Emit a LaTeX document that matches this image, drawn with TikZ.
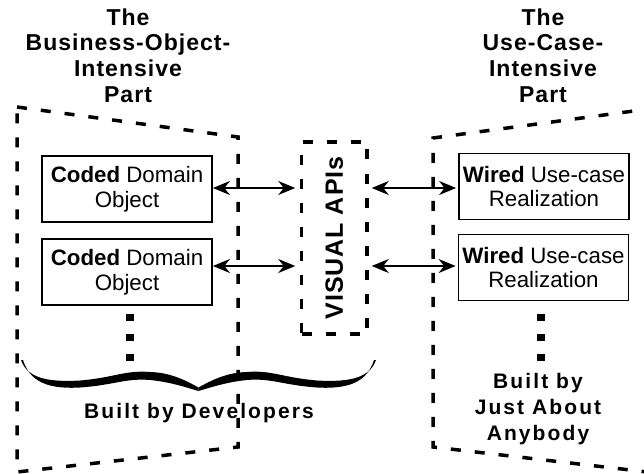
\documentclass[tikz,border=0pt]{standalone}
\usepackage{fontspec}
\setmainfont{Liberation Sans}
\newfontfamily\headfont[LetterSpace=4.5]{Liberation Sans}
\newfontfamily\capfont[LetterSpace=10]{Liberation Sans}
\newfontfamily\apifont[LetterSpace=4]{Liberation Sans}
\usetikzlibrary{arrows.meta}

\begin{document}
\begin{tikzpicture}[x=1pt,y=-1pt,
  part/.style={draw, line width=3.5pt, dash pattern=on 10pt off 14pt},
  objbox/.style={draw, line width=1.8pt, minimum width=170pt, minimum height=66pt,
    inner sep=0pt, align=center, font=\fontsize{22.3}{24.5}\selectfont},
  heading/.style={align=center, inner sep=0pt,
    font=\headfont\bfseries\fontsize{23}{25.8}\selectfont},
  caption/.style={align=center, inner sep=0pt,
    font=\capfont\bfseries\fontsize{21}{26}\selectfont},
  apibox/.style={draw, line width=3.5pt, dash pattern=on 10pt off 14pt,
    minimum width=65.5pt, minimum height=192pt, inner sep=0pt},
  link/.style={{Stealth[length=17pt,width=14pt]}-{Stealth[length=17pt,width=14pt]},
    line width=1.6pt},
  squares/.style={line width=7.5pt, dash pattern=on 7.5pt off 12.5pt}
]
\useasboundingbox (0,0) rectangle (644,473);
\clip (0,0) rectangle (644,473);

% the two dashed regions
\draw[part] (17,107) -- (238,137) -- (238,447) -- (17,472) -- cycle;
\draw[part] (656,108) -- (433,138) -- (433,447) -- (656,473);

% headings
\node[heading, anchor=north] (lhead) at (128,8.3)
  {The\\Business-Object-\\Intensive\\Part};
\node[heading, anchor=north] (rhead) at (543,8.3)
  {The\\Use-Case-\\Intensive\\Part};

% domain objects and use-case realizations
\node[objbox] (lb1) at (127,189) {\textbf{Coded} Domain\\Object};
\node[objbox] (lb2) at (127,272) {\textbf{Coded} Domain\\Object};
\node[objbox] (rb1) at (544,186.5) {\textbf{Wired} Use-case\\Realization};
\node[objbox] (rb2) at (543.5,267.5) {\textbf{Wired} Use-case\\Realization};

% visual APIs in the middle
\node[apibox] (apis) at (334.25,238) {};
\node[rotate=90, inner sep=0pt, font=\apifont\bfseries\fontsize{25}{25}\selectfont]
  (apilabel) at (apis.center) {VISUAL APIs};

% two-way links
\coordinate (row1) at (0,188);
\coordinate (row2) at (0,266);
\draw[link] (lb1.east |- row1) -- ([xshift=-4.5pt]apis.west |- row1);
\draw[link] (lb2.east |- row2) -- ([xshift=-4.5pt]apis.west |- row2);
\draw[link] ([xshift=3pt]apis.east |- row1) -- ([xshift=-2pt]rb1.west |- row1);
\draw[link] ([xshift=3pt]apis.east |- row2) -- ([xshift=-2pt]rb2.west |- row2);

% square-dotted continuations
\draw[squares] (lb2.south) ++(3,8) -- ++(0,48);
\draw[squares] (rb2.south) ++(-2.5,12.5) -- ++(0,48);

% curly brace under the coded objects, drawn as a filled stroke
\def\halfbrace{(23,360) .. controls (29.5,380) and (45,389.5) .. (80,387.5)
  .. controls (115,385) and (125,378) .. (150,380)
  .. controls (170,382) and (185,387) .. (198.5,391)
  -- (198.5,387.5) .. controls (185,380) and (170,372.5) .. (150,372)
  .. controls (125,370) and (115,377.5) .. (80,380.5)
  .. controls (45,382.5) and (27,377) .. (21,360) -- cycle}
\fill \halfbrace;
\begin{scope}[shift={(397,0)}, xscale=-1]
  \fill \halfbrace;
\end{scope}

% captions
\node[caption, anchor=base] (lcap) at (199,418) {Built by Developers};
\node[caption, anchor=north] (rcap) at (538,373)
  {Built by\\Just About\\Anybody};
\end{tikzpicture}
\end{document}
